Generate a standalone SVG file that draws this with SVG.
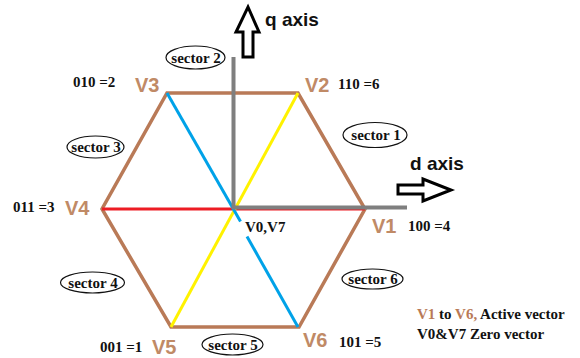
<svg xmlns="http://www.w3.org/2000/svg" width="580" height="358" viewBox="0 0 580 358">
<style>
.vl{font-family:"Liberation Sans",Arial,sans-serif;font-size:20px;font-weight:bold;fill:#c08a66}
.tb{font-family:"Liberation Serif","Times New Roman",serif;font-size:15px;font-weight:bold;fill:#111}
.ax{font-family:"Liberation Sans",Arial,sans-serif;font-size:19px;font-weight:bold;fill:#111}
.sec ellipse{fill:#fff;stroke:#111;stroke-width:1.2}
.sec text{font-family:"Liberation Serif","Times New Roman",serif;font-size:15px;font-weight:bold;fill:#111;text-anchor:middle}
.arr{fill:#fff;stroke:#000;stroke-width:3;stroke-linejoin:miter}
</style>
<rect width="580" height="358" fill="#fff"/>
<g id="connectors" fill="none" stroke-linecap="butt">
<polygon id="hexagon" points="167,93 298,93 365,209 299,327 171,327 102,209" stroke="#b97a57" stroke-width="3.5"/>
<line x1="102" y1="209" x2="365" y2="209" stroke="#ed1c24" stroke-width="3"/>
<line x1="171" y1="327" x2="298" y2="93" stroke="#fff200" stroke-width="3"/>
<line x1="167" y1="93" x2="240.5" y2="221.5" stroke="#00a2e8" stroke-width="3"/>
<line x1="247" y1="236.5" x2="298" y2="327" stroke="#00a2e8" stroke-width="3"/>
<line x1="233.5" y1="57" x2="233.5" y2="209" stroke="#7f7f7f" stroke-width="4"/>
<line x1="233" y1="207.5" x2="407" y2="207.5" stroke="#7f7f7f" stroke-width="4"/>
</g>
<g id="q-axis">
<polygon class="arr" points="243,57 253,57 253,32 259,32 248,7 236,32 243,32"/>
<text class="ax" x="265" y="26">q axis</text>
</g>
<g id="d-axis">
<polygon class="arr" points="398,185 423,185 423,179 451,190 423,201 423,194 398,194"/>
<text class="ax" x="410" y="170">d axis</text>
</g>
<g id="V1"><text class="vl" x="372" y="233">V1</text><text class="tb" x="408" y="231">100 =4</text></g>
<g id="V2"><text class="vl" x="305" y="92">V2</text><text class="tb" x="338" y="89">110 =6</text></g>
<g id="V3"><text class="vl" x="135" y="92">V3</text><text class="tb" x="73" y="87">010 =2</text></g>
<g id="V4"><text class="vl" x="65" y="215">V4</text><text class="tb" x="13" y="212">011 =3</text></g>
<g id="V5"><text class="vl" x="152" y="354">V5</text><text class="tb" x="100" y="352">001 =1</text></g>
<g id="V6"><text class="vl" x="303" y="347">V6</text><text class="tb" x="339" y="347">101 =5</text></g>
<g id="V0V7"><text class="tb" x="245" y="232">V0,V7</text></g>
<g id="sector1" class="sec"><ellipse cx="375" cy="135" rx="32" ry="12.5"/><text x="376" y="140">sector 1</text></g>
<g id="sector2" class="sec"><ellipse cx="195.5" cy="57.5" rx="29.5" ry="11.5"/><text x="196" y="62.5">sector 2</text></g>
<g id="sector3" class="sec"><ellipse cx="95.5" cy="147" rx="28.5" ry="11"/><text x="96" y="152">sector 3</text></g>
<g id="sector4" class="sec"><ellipse cx="92.5" cy="282.5" rx="32" ry="10.5"/><text x="93" y="287.5">sector 4</text></g>
<g id="sector5" class="sec"><ellipse cx="232.5" cy="344.5" rx="30.5" ry="10.5"/><text x="233" y="349.5">sector 5</text></g>
<g id="sector6" class="sec"><ellipse cx="372.5" cy="279" rx="30.5" ry="10"/><text x="373" y="284">sector 6</text></g>
<g id="legend">
<text class="tb" x="417" y="319"><tspan fill="#b97a57">V1</tspan> to <tspan fill="#b97a57">V6,</tspan> Active vector</text>
<text class="tb" x="417" y="339">V0&amp;V7 Zero vector</text>
</g>
</svg>
